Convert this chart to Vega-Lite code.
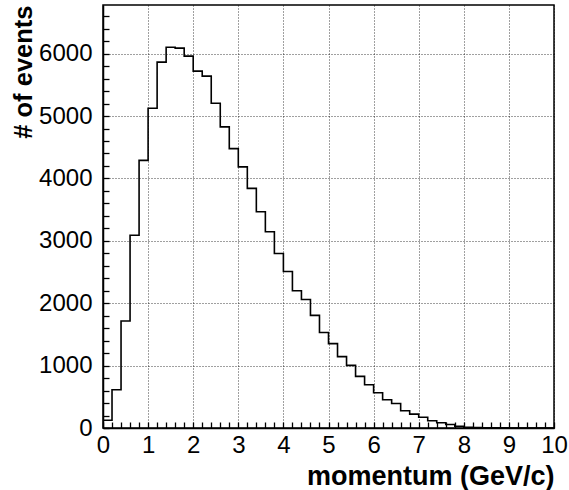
{
  "$schema": "https://vega.github.io/schema/vega-lite/v6.json",
  "width": 451,
  "height": 423,
  "autosize": {"type": "none"},
  "padding": {"left": 103, "top": 5, "right": 15, "bottom": 62},
  "background": "white",
  "config": {
    "font": "Liberation Sans",
    "view": {"stroke": "black", "strokeWidth": 1.5},
    "axis": {"labelFont": "Liberation Sans", "titleFont": "Liberation Sans"}
  },
  "data": {"values": [
    {"x": 0.0, "n": 125}, {"x": 0.2, "n": 613}, {"x": 0.4, "n": 1714}, {"x": 0.6, "n": 3090},
    {"x": 0.8, "n": 4290}, {"x": 1.0, "n": 5125}, {"x": 1.2, "n": 5864}, {"x": 1.4, "n": 6104},
    {"x": 1.6, "n": 6088}, {"x": 1.8, "n": 5960}, {"x": 2.0, "n": 5720}, {"x": 2.2, "n": 5640},
    {"x": 2.4, "n": 5205}, {"x": 2.6, "n": 4826}, {"x": 2.8, "n": 4478}, {"x": 3.0, "n": 4185},
    {"x": 3.2, "n": 3841}, {"x": 3.4, "n": 3467}, {"x": 3.6, "n": 3146}, {"x": 3.8, "n": 2798},
    {"x": 4.0, "n": 2509}, {"x": 4.2, "n": 2199}, {"x": 4.4, "n": 2060}, {"x": 4.6, "n": 1805},
    {"x": 4.8, "n": 1530}, {"x": 5.0, "n": 1353}, {"x": 5.2, "n": 1144}, {"x": 5.4, "n": 1003},
    {"x": 5.6, "n": 827}, {"x": 5.8, "n": 693}, {"x": 6.0, "n": 565}, {"x": 6.2, "n": 453},
    {"x": 6.4, "n": 393}, {"x": 6.6, "n": 276}, {"x": 6.8, "n": 222}, {"x": 7.0, "n": 173},
    {"x": 7.2, "n": 116}, {"x": 7.4, "n": 83}, {"x": 7.6, "n": 56}, {"x": 7.8, "n": 29},
    {"x": 8.0, "n": 13}, {"x": 8.2, "n": 8}, {"x": 8.4, "n": 5}, {"x": 8.6, "n": 3},
    {"x": 8.8, "n": 2}, {"x": 9.0, "n": 1}, {"x": 9.2, "n": 1}, {"x": 9.4, "n": 0},
    {"x": 9.6, "n": 0}, {"x": 9.8, "n": 0}, {"x": 10.0, "n": 0}
  ]},
  "mark": {"type": "line", "interpolate": "step-after", "color": "black", "strokeWidth": 1.6, "clip": true},
  "encoding": {
    "x": {"field": "x", "type": "quantitative",
      "scale": {"domain": [0, 10], "nice": false, "zero": false},
      "axis": {"orient": "bottom",
        "values": [0,0.2,0.4,0.6,0.8,1,1.2,1.4,1.6,1.8,2,2.2,2.4,2.6,2.8,3,3.2,3.4,3.6,3.8,4,4.2,4.4,4.6,4.8,5,5.2,5.4,5.6,5.8,6,6.2,6.4,6.6,6.8,7,7.2,7.4,7.6,7.8,8,8.2,8.4,8.6,8.8,9,9.2,9.4,9.6,9.8,10],
        "labelExpr": "datum.value % 1 === 0 ? format(datum.value, 'd') : ''",
        "ticks": true, "tickSize": -6, "tickColor": "black", "tickWidth": 1.3,
        "labelFontSize": 24, "labelColor": "black", "labelPadding": 11, "labelFlush": false,
        "labelOverlap": false,
        "domainColor": "black", "domainWidth": 1.5,
        "grid": true, "gridColor": "black", "gridDash": [1, 2],
        "gridOpacity": {"condition": {"test": "datum.value % 1 === 0", "value": 0.75}, "value": 0},
        "gridWidth": 1,
        "title": "momentum (GeV/c)", "titleFontSize": 27, "titleFontWeight": "bold", "titleColor": "black",
        "titleAlign": "right", "titleAnchor": null, "titleX": 451, "titleY": 56, "titleBaseline": "alphabetic"}},
    "y": {"field": "n", "type": "quantitative",
      "scale": {"domain": [0, 6780], "nice": false},
      "axis": {"orient": "left",
        "values": [0,200,400,600,800,1000,1200,1400,1600,1800,2000,2200,2400,2600,2800,3000,3200,3400,3600,3800,4000,4200,4400,4600,4800,5000,5200,5400,5600,5800,6000,6200,6400,6600],
        "labelExpr": "datum.value % 1000 === 0 ? format(datum.value, 'd') : ''",
        "ticks": true, "tickSize": -6, "tickColor": "black", "tickWidth": 1.3,
        "labelFontSize": 24, "labelColor": "black", "labelPadding": 17, "labelFlush": false,
        "labelOverlap": false,
        "domainColor": "black", "domainWidth": 1.5,
        "grid": true, "gridColor": "black", "gridDash": [1, 2],
        "gridOpacity": {"condition": {"test": "datum.value % 1000 === 0", "value": 0.75}, "value": 0},
        "gridWidth": 1,
        "title": "# of events", "titleFontSize": 25.5, "titleFontWeight": "bold", "titleColor": "black",
        "titleAngle": -90, "titleAlign": "right", "titleAnchor": null, "titleX": -72, "titleY": 0, "titleBaseline": "alphabetic"}}
  }
}
